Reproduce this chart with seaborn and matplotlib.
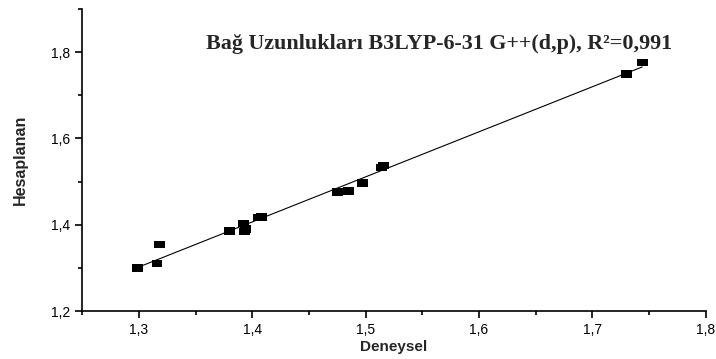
import numpy as np
import pandas as pd
import matplotlib
matplotlib.use("Agg")
import matplotlib.pyplot as plt
from matplotlib.ticker import MultipleLocator, FuncFormatter
import seaborn as sns

# Data
deneysel = [1.299, 1.316, 1.318, 1.380, 1.392, 1.393, 1.394, 1.405, 1.408,
            1.475, 1.485, 1.497, 1.514, 1.516, 1.730, 1.744]
hesaplanan = [1.300, 1.310, 1.354, 1.386, 1.403, 1.384, 1.390, 1.417, 1.418,
              1.476, 1.478, 1.497, 1.533, 1.537, 1.749, 1.776]
x_ticks = [1.3, 1.4, 1.5, 1.6, 1.7, 1.8]
y_ticks = [1.2, 1.4, 1.6, 1.8]
title_text = "Bağ Uzunlukları B3LYP-6-31 G++(d,p), R²=0,991"
x_label = "Deneysel"
y_label = "Hesaplanan"

df = pd.DataFrame({"Deneysel": deneysel, "Hesaplanan": hesaplanan})

sns.set_style("ticks")
plt.rcParams["font.family"] = ["Liberation Sans", "DejaVu Sans"]

fig = plt.figure(figsize=(7.16, 3.59), dpi=100)
ax = fig.add_axes([0.1149, 0.1337, 0.8706, 0.8413])

rect = [(-1, -0.7), (1, -0.7), (1, 0.7), (-1, 0.7), (-1, -0.7)]
sns.regplot(data=df, x="Deneysel", y="Hesaplanan", ax=ax, ci=None,
            marker=rect,
            scatter_kws=dict(s=60, color="black", edgecolors="none", alpha=1,
                             zorder=3),
            line_kws=dict(color="black", lw=0.8, zorder=2))

ax.set_xlim(1.25, 1.8)
ax.set_ylim(1.2, 1.9)
ax.set_xticks(x_ticks)
ax.set_yticks(y_ticks)
ax.xaxis.set_minor_locator(MultipleLocator(0.05))
ax.yaxis.set_minor_locator(MultipleLocator(0.1))
fmt = FuncFormatter(lambda v, p: f"{v:.1f}".replace(".", ","))
ax.xaxis.set_major_formatter(fmt)
ax.yaxis.set_major_formatter(fmt)
ax.tick_params(axis="both", which="major", direction="out", length=5, width=1.2,
               labelsize=10, color="black", labelcolor="black")
ax.tick_params(axis="both", which="minor", direction="out", length=3, width=1.2,
               color="black")
for s in ["left", "bottom"]:
    ax.spines[s].set_linewidth(1.2)
    ax.spines[s].set_color("black")
sns.despine(ax=ax)

ax.set_xlabel(x_label, fontsize=11, fontweight="bold", labelpad=2)
ax.set_ylabel(y_label, fontsize=11.5, fontweight="bold", labelpad=17)

ax.text(0.572, 0.884, title_text, transform=ax.transAxes, ha="center", va="center",
        fontsize=15.8, fontweight="bold", family=["Liberation Serif", "DejaVu Serif"])

fig.savefig("out.png", dpi=100)
